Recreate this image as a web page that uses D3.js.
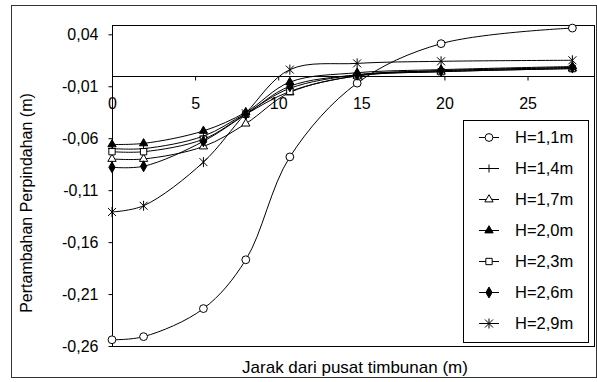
<!DOCTYPE html>
<html>
<head>
<meta charset="utf-8">
<script src="https://cdn.jsdelivr.net/npm/d3@7"></script>
<style>
  body { margin: 0; background: #fff; }
  text { font-family: Arial, "Liberation Sans", sans-serif; fill: #000; }
</style>
</head>
<body>
<div id="chart"></div>
<script>
// data
var jarak = [0, 1.9, 5.5, 8.05, 10.7, 14.75, 19.8, 27.7];
var names = ["H=1,1m", "H=1,4m", "H=1,7m", "H=2,0m", "H=2,3m", "H=2,6m", "H=2,9m"];
var markers = ["circle", "plus", "triangleOpen", "triangle", "square", "diamond", "star"];
var h11 = [-0.254, -0.251, -0.224, -0.177, -0.078, -0.007, 0.031, 0.046];
var h14 = [-0.070, -0.070, -0.058, -0.036, -0.012, 0.001, 0.005, 0.008];
var h17 = [-0.080, -0.080, -0.068, -0.046, -0.016, 0.000, 0.004, 0.007];
var h20 = [-0.066, -0.065, -0.053, -0.035, -0.006, 0.003, 0.006, 0.009];
var h23 = [-0.073, -0.073, -0.061, -0.037, -0.015, 0.000, 0.004, 0.007];
var h26 = [-0.088, -0.087, -0.063, -0.037, -0.010, 0.001, 0.005, 0.008];
var h29 = [-0.131, -0.125, -0.083, -0.036, 0.006, 0.012, 0.014, 0.015];
var seriesValues = [h11, h14, h17, h20, h23, h26, h29];
var xTicks = [0, 5, 10, 15, 20, 25];
var yTicks = [0.04, -0.01, -0.06, -0.11, -0.16, -0.21, -0.26];

var width = 597, height = 382;
var plot = { left: 112, top: 25, right: 594, bottom: 346 };

var svg = d3.select("#chart").append("svg")
    .attr("width", width)
    .attr("height", height);

// outer chart frame
svg.append("rect")
    .attr("x", 11.5).attr("y", 5.5)
    .attr("width", 585).attr("height", 372)
    .attr("fill", "#fff")
    .attr("stroke", "#333");

// scales
var x = d3.scaleLinear().domain([0, 29]).range([plot.left, plot.right]);
var y = d3.scaleLinear().domain([-0.26, 0.04]).range([plot.bottom, 34.3]);

// plot area border
svg.append("rect")
    .attr("x", plot.left + 0.5).attr("y", plot.top + 0.5)
    .attr("width", plot.right - plot.left).attr("height", plot.bottom - plot.top)
    .attr("fill", "#fff")
    .attr("stroke", "#000");

// y axis
var yAxis = svg.append("g")
    .attr("transform", "translate(" + (plot.left + 0.5) + ",0)")
    .call(d3.axisLeft(y).tickValues(yTicks).tickSize(4).tickPadding(10)
        .tickFormat(function (d) { return d3.format(".2f")(d).replace(".", ",").replace("−", "-"); }));
yAxis.select(".domain").remove();
yAxis.selectAll("text").style("font-size", "16px");

// x axis sits on y = 0
var xAxis = svg.append("g")
    .attr("transform", "translate(0," + (Math.round(y(0)) + 0.5) + ")")
    .call(d3.axisBottom(x).tickValues(xTicks).tickSize(4).tickPadding(17)
        .tickFormat(d3.format("d")));
xAxis.select(".domain")
    .attr("d", "M" + plot.left + ",0H" + plot.right);
xAxis.selectAll("text").style("font-size", "16px");

// axis titles
svg.append("text")
    .attr("x", 355)
    .attr("y", 373)
    .style("text-anchor", "middle")
    .style("font-size", "17px")
    .text("Jarak dari pusat timbunan (m)");

svg.append("text")
    .attr("transform", "translate(32,203) rotate(-90)")
    .style("text-anchor", "middle")
    .style("font-size", "16px")
    .text("Pertambahan Perpindahan (m)");

// marker shapes
function markerPath(type) {
    if (type === "circle") return d3.symbol(d3.symbolCircle, 48)();
    if (type === "triangle" || type === "triangleOpen") return d3.symbol(d3.symbolTriangle, 30)();
    if (type === "square") return d3.symbol(d3.symbolSquare, 40)();
    if (type === "diamond") return d3.symbol(d3.symbolDiamond, 34)();
    if (type === "plus") return "M-4,0H4M0,-4V4";
    if (type === "star") return "M-4,-4L4,4M-4,4L4,-4M0,-5V5";
}
function markerFill(type) {
    if (type === "triangle" || type === "diamond") return "#000";
    if (type === "plus" || type === "star") return "none";
    return "#fff";
}

var line = d3.line()
    .x(function (d) { return x(d[0]); })
    .y(function (d) { return y(d[1]); })
    .curve(d3.curveCatmullRom.alpha(0.5));

var series = seriesValues.map(function (vals, i) {
    return { name: names[i], marker: markers[i], points: jarak.map(function (j, k) { return [j, vals[k]]; }) };
});

// lines first, markers on top
svg.selectAll(".seriesLine")
    .data(series)
    .enter().append("path")
    .attr("class", "seriesLine")
    .attr("d", function (d) { return line(d.points); })
    .attr("fill", "none")
    .attr("stroke", "#000")
    .attr("stroke-width", 1);

series.forEach(function (s) {
    svg.selectAll(".m" + s.marker)
        .data(s.points)
        .enter().append("path")
        .attr("transform", function (d) { return "translate(" + x(d[0]) + "," + y(d[1]) + ")"; })
        .attr("d", markerPath(s.marker))
        .attr("fill", markerFill(s.marker))
        .attr("stroke", "#000")
        .attr("stroke-width", 1);
});

// legend
var legend = svg.append("g");
legend.append("rect")
    .attr("x", 463.5).attr("y", 120.5)
    .attr("width", 125).attr("height", 222)
    .attr("fill", "#fff")
    .attr("stroke", "#000");

series.forEach(function (s, i) {
    var ly = 137.5 + i * 31;
    legend.append("line")
        .attr("x1", 479).attr("x2", 499)
        .attr("y1", ly).attr("y2", ly)
        .attr("stroke", "#000");
    legend.append("path")
        .attr("transform", "translate(489," + ly + ")")
        .attr("d", markerPath(s.marker))
        .attr("fill", markerFill(s.marker))
        .attr("stroke", "#000");
    legend.append("text")
        .attr("x", 515)
        .attr("y", ly)
        .attr("dy", "0.36em")
        .style("font-size", "16.5px")
        .text(s.name);
});
</script>
</body>
</html>
